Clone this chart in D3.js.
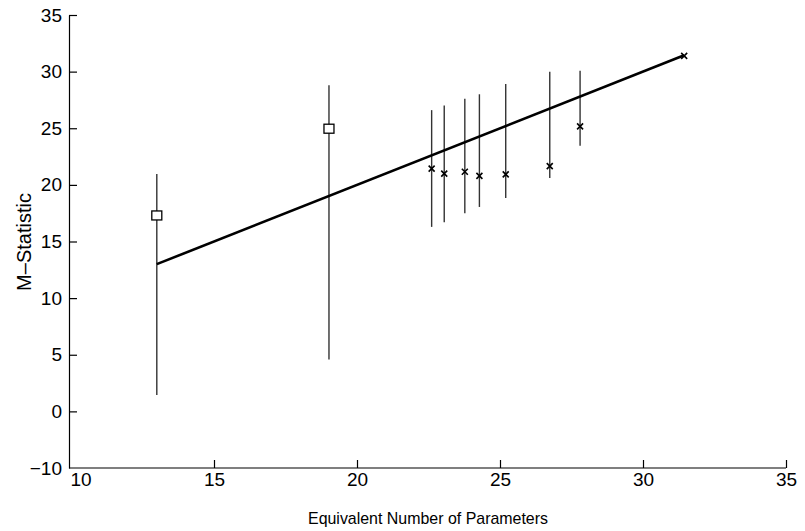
<!DOCTYPE html>
<html lang="en">
<head>
<meta charset="utf-8">
<title>M-Statistic vs Equivalent Number of Parameters</title>
<script src="https://cdn.jsdelivr.net/npm/d3@7"></script>
<style>
  body { margin: 0; background: #fff; }
  .axis path, .axis line { fill: none; stroke: #000; stroke-width: 1.2; }
  .axis text { font-family: "Liberation Sans", Arial, sans-serif; font-size: 19px; fill: #000; }
  .title { font-family: "Liberation Sans", Arial, sans-serif; font-size: 17px; fill: #000; }
</style>
</head>
<body>
<script>
var w = 805, h = 531;

// square markers (two models)
var sqX   = [13.0, 19.02];
var sqY   = [17.3, 24.96];
var sqLo  = [1.44, 4.58];
var sqHi  = [20.96, 28.8];

// cross markers
var crX   = [22.61, 23.05, 23.77, 24.28, 25.2, 26.74, 27.8, 31.44];
var crY   = [21.43, 20.99, 21.16, 20.8, 20.93, 21.66, 25.16, 31.39];
var crLo  = [16.29, 16.7, 17.5, 18.05, 18.84, 20.6, 23.46, null];
var crHi  = [26.6, 27.0, 27.6, 28.0, 28.9, 30.0, 30.07, null];

// reference line y = x
var lineX = [13.0, 31.44];
var lineY = [13.0, 31.44];

var xTicks = [10, 15, 20, 25, 30, 35];
var yTicks = [-5, 0, 5, 10, 15, 20, 25, 30, 35];
var yTickLabels = ["\u221210", "0", "5", "10", "15", "20", "25", "30", "35"];

var xScale = d3.scaleLinear().domain([10, 35]).range([71, 786]);
var yScale = d3.scaleLinear().domain([-5, 35]).range([468, 15]);

var svg = d3.select("body").append("svg").attr("width", w).attr("height", h);

// axes
var xAxis = d3.axisBottom(xScale).tickValues(xTicks).tickSizeInner(-8).tickSizeOuter(0).tickPadding(5);
var yAxis = d3.axisLeft(yScale).tickValues(yTicks).tickSizeInner(-8).tickSizeOuter(0).tickPadding(7)
  .tickFormat(function(d, i) { return yTickLabels[i]; });

var gx = svg.append("g").attr("class", "axis").attr("transform", "translate(0," + yScale(-5) + ")").call(xAxis);
gx.select(".domain").attr("d", "M69,0H" + xScale(35));
gx.selectAll(".tick").filter(function(d) { return d == 10; }).select("line").remove();
gx.selectAll(".tick").filter(function(d) { return d == 10; }).select("text").attr("text-anchor", "start").attr("x", -1);

var gy = svg.append("g").attr("class", "axis").attr("transform", "translate(69,0)").call(yAxis);
gy.selectAll(".tick").filter(function(d) { return d == -5; }).select("line").remove();

// error bars
var sqData = sqX.map(function(x, i) { return {x: x, y: sqY[i], lo: sqLo[i], hi: sqHi[i]}; });
var crData = crX.map(function(x, i) { return {x: x, y: crY[i], lo: crLo[i], hi: crHi[i]}; });
var bars = sqData.concat(crData).filter(function(d) { return d.lo != null; });

svg.append("g").selectAll("line").data(bars).enter().append("line")
  .attr("x1", function(d) { return xScale(d.x); })
  .attr("x2", function(d) { return xScale(d.x); })
  .attr("y1", function(d) { return yScale(d.lo); })
  .attr("y2", function(d) { return yScale(d.hi); })
  .attr("stroke", "#333").attr("stroke-width", 1.4);

// reference line
svg.append("path")
  .datum(lineX.map(function(x, i) { return [x, lineY[i]]; }))
  .attr("d", d3.line().x(function(d) { return xScale(d[0]); }).y(function(d) { return yScale(d[1]); }))
  .attr("fill", "none").attr("stroke", "#000").attr("stroke-width", 2.6);

// squares
svg.append("g").selectAll("rect").data(sqData).enter().append("rect")
  .attr("x", function(d) { return xScale(d.x) - 5; })
  .attr("y", function(d) { return yScale(d.y) - 4.5; })
  .attr("width", 10).attr("height", 9)
  .attr("fill", "#fff").attr("stroke", "#000").attr("stroke-width", 1.3);

// crosses
var s = 3;
svg.append("g").selectAll("path").data(crData).enter().append("path")
  .attr("d", function(d) {
    var cx = xScale(d.x), cy = yScale(d.y);
    return "M" + (cx - s) + "," + (cy - s) + "L" + (cx + s) + "," + (cy + s) +
           "M" + (cx - s) + "," + (cy + s) + "L" + (cx + s) + "," + (cy - s);
  })
  .attr("stroke", "#000").attr("stroke-width", 1.6).attr("fill", "none");

// titles
svg.append("text").attr("class", "title")
  .attr("x", 428).attr("y", 524).attr("text-anchor", "middle")
  .attr("textLength", 240).attr("lengthAdjust", "spacingAndGlyphs")
  .text("Equivalent Number of Parameters");

svg.append("text").attr("class", "title")
  .attr("transform", "translate(31,242) rotate(-90)").attr("text-anchor", "middle")
  .style("font-size", "20px")
  .text("M\u2013Statistic");
</script>
</body>
</html>
